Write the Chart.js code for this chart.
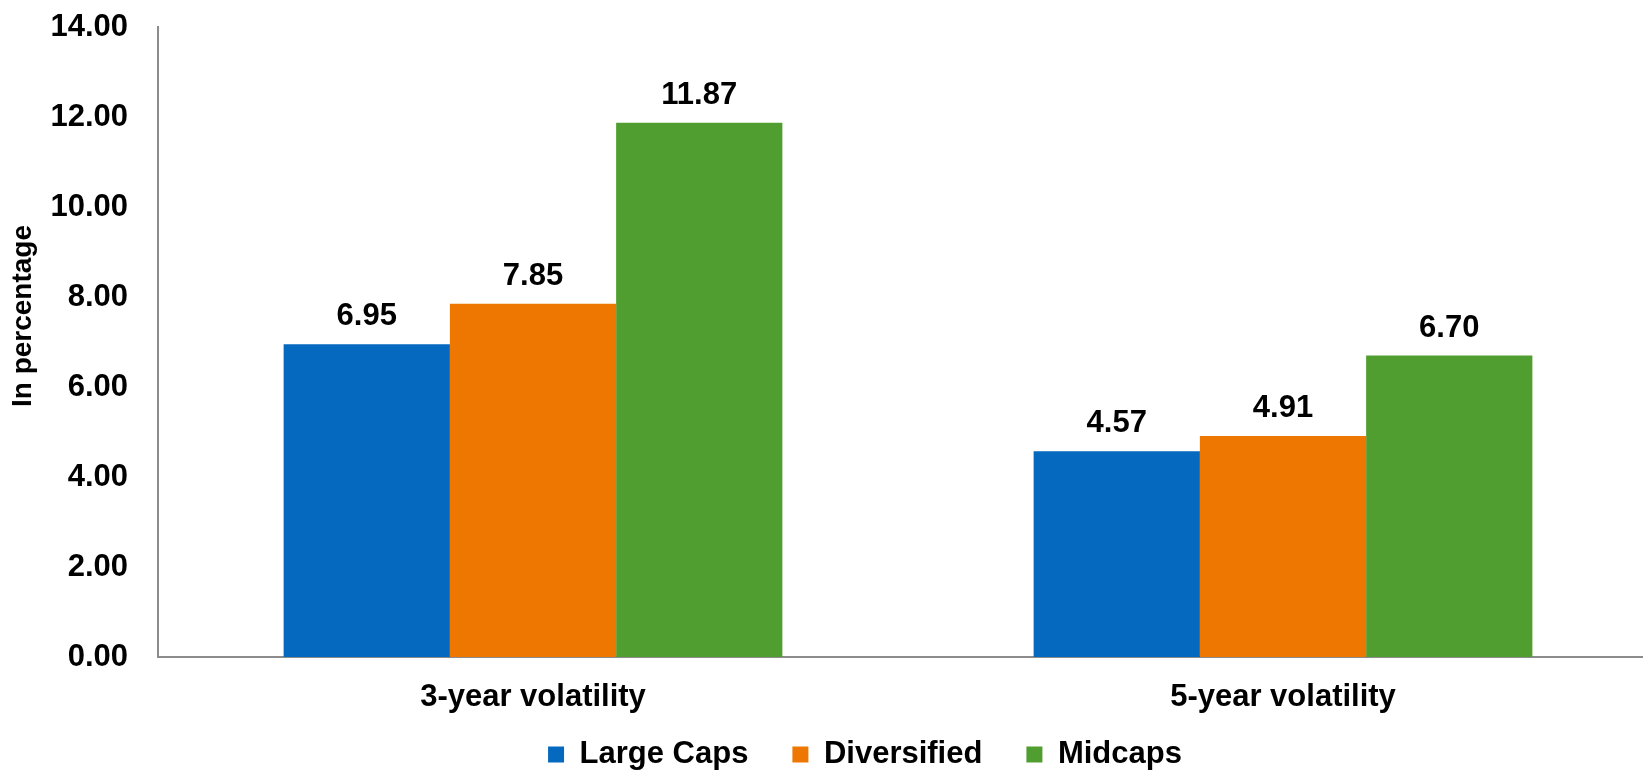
<!DOCTYPE html>
<html>
<head>
<meta charset="utf-8">
<script src="https://cdn.jsdelivr.net/npm/chart.js@4/dist/chart.umd.min.js"></script>
<style>
  html, body { margin: 0; padding: 0; background: #fff; }
  #wrap { width: 1643px; height: 772px; }
</style>
</head>
<body>
<div id="wrap"><canvas id="volChart"></canvas></div>
<script>
const categories = ["3-year volatility", "5-year volatility"];
const largeCaps = [6.95, 4.57];
const diversified = [7.85, 4.91];
const midcaps = [11.87, 6.70];
const yTicks = [0, 2, 4, 6, 8, 10, 12, 14];

const FONT = "'Liberation Sans', Arial, sans-serif";

// value labels above bars, rotated y title, legend / x axis nudged like the original
const extras = {
  id: 'extras',
  afterLayout(chart) {
    chart.legend.left = 87;
    // the original's category axis runs a bit past the right edge
    const x = chart.scales.x;
    x.right = chart.width + 15;
    x.width = x.right - x.left;
    x.configure();
  },
  afterDatasetsDraw(chart) {
    const ctx = chart.ctx;
    ctx.save();
    ctx.fillStyle = '#000';
    ctx.font = "bold 31px " + FONT;
    ctx.textAlign = 'center';
    ctx.textBaseline = 'alphabetic';
    chart.data.datasets.forEach((ds, i) => {
      chart.getDatasetMeta(i).data.forEach((bar, j) => {
        ctx.fillText(ds.data[j].toFixed(2), bar.x, bar.y - 19);
      });
    });
    ctx.restore();
  },
  afterDraw(chart) {
    const ctx = chart.ctx;
    const area = chart.chartArea;
    ctx.save();
    ctx.translate(23, (area.top + area.bottom) / 2 - 26);
    ctx.rotate(-Math.PI / 2);
    ctx.fillStyle = '#000';
    ctx.font = "bold 28px " + FONT;
    ctx.textAlign = 'center';
    ctx.textBaseline = 'middle';
    ctx.fillText('In percentage', 0, 0);
    ctx.restore();
  }
};

const ctx = document.getElementById('volChart').getContext('2d');
new Chart(ctx, {
  type: 'bar',
  data: {
    labels: categories,
    datasets: [
      { label: 'Large Caps', data: largeCaps, backgroundColor: '#0569bf' },
      { label: 'Diversified', data: diversified, backgroundColor: '#ee7701' },
      { label: 'Midcaps', data: midcaps, backgroundColor: '#509e2f' }
    ]
  },
  options: {
    responsive: true,
    maintainAspectRatio: false,
    animation: false,
    layout: { padding: { left: 0, right: 0, top: 27, bottom: -8 } },
    datasets: {
      bar: { barPercentage: 1, categoryPercentage: 0.665 }
    },
    plugins: {
      legend: {
        position: 'bottom',
        labels: {
          color: '#000',
          font: { family: FONT, size: 31, weight: 'bold' },
          boxWidth: 16,
          boxHeight: 16,
          padding: 44
        }
      },
      tooltip: { enabled: false }
    },
    scales: {
      x: {
        afterFit(scale) {
          scale.height = 38;
          scale._computeLabelArea = () => undefined;
        },
        grid: { display: false, drawTicks: false },
        border: { display: true, color: '#8c8c8c', width: 2 },
        ticks: {
          color: '#000',
          padding: 22,
          font: { family: FONT, size: 31, weight: 'bold' }
        }
      },
      y: {
        min: 0,
        max: 14,
        afterBuildTicks(scale) {
          scale.ticks = yTicks.map(v => ({ value: v }));
        },
        afterFit(scale) {
          scale.width = 158;
          scale.paddingTop = 0;
          scale.paddingBottom = 0;
        },
        grid: { display: false, drawTicks: false },
        border: { display: true, color: '#8c8c8c', width: 2 },
        ticks: {
          color: '#000',
          padding: 30,
          font: { family: FONT, size: 31, weight: 'bold' },
          callback: v => Number(v).toFixed(2)
        }
      }
    }
  },
  plugins: [extras]
});
</script>
</body>
</html>
